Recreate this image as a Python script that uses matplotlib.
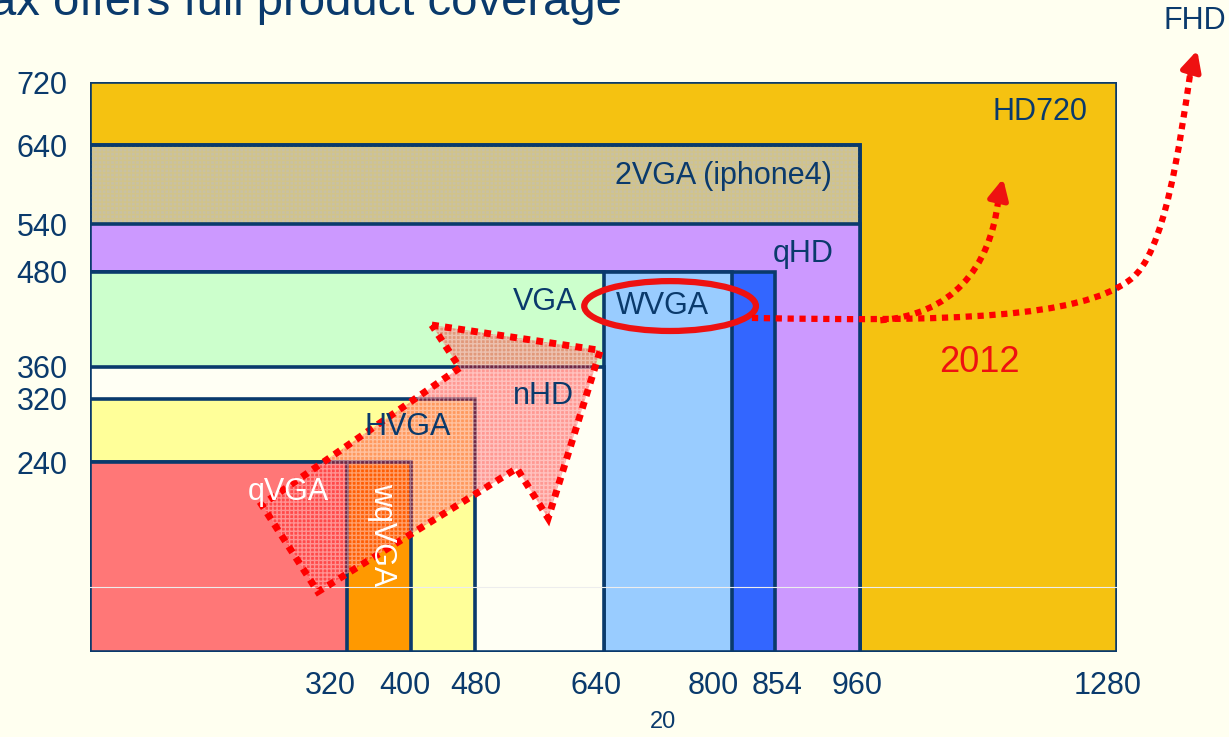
import matplotlib
matplotlib.use('Agg')
import matplotlib.pyplot as plt
import matplotlib.transforms as mtransforms
from matplotlib.patches import Rectangle, Ellipse, Polygon, PathPatch
from matplotlib.path import Path

plt.rcParams['font.family'] = ['Liberation Sans', 'DejaVu Sans']

# ---- data ----
names = ['HD720', '2VGA (iphone4)', 'qHD', 'FWVGA', 'WVGA', 'VGA', 'nHD', 'HVGA', 'wqVGA', 'qVGA']
widths = [1280, 960, 960, 854, 800, 640, 640, 480, 400, 320]
heights = [720, 640, 540, 480, 480, 480, 360, 320, 240, 240]
fills = ['#F5C211', '#C9C1A2', '#CC99FF', '#3366FF', '#99CCFF', '#CCFFCC',
         '#FFFFF4', '#FFFF99', '#FF9900', '#FF7777']
label_x = [1184, 789, 889, None, 713, 567, 565, 396, 364, 247]
label_y = [682, 601, 503, None, 437, 442, 323, 284, 148, 202]
label_color = ['navy'] * 8 + ['white', 'white']
label_rot = [0] * 8 + [-90, 0]

x_ticks = [320, 400, 480, 640, 800, 854, 960, 1280]
x_tick_shift_px = [-16, -6, 1, -7, -19, 2, -3, -9]
y_ticks = [240, 320, 360, 480, 540, 640, 720]

# annotation shapes (data units)
arrow_poly = [(426, 413), (636, 381), (571, 169), (532, 232), (284, 76), (214, 186), (461, 359)]
fhd_curve = [(825, 422), (1072, 417), (1234, 422), (1296, 470),
             (1340, 501), (1359, 647), (1371, 729)]
fhd_tip = (1380, 760)
y2012_curve = [(985, 419), (1072, 426), (1122, 483), (1132, 571)]
y2012_tip = (1138, 598)
ellipse_c, ellipse_w, ellipse_h = (723, 437), 214, 63

NAVY = '#0A3A6C'
RED = '#EE1111'
BG = '#FFFFF0'

fig = plt.figure(figsize=(12.29, 7.37), dpi=100, facecolor=BG)
ax = fig.add_axes([90 / 1229, 85 / 737, 1027 / 1229, 570 / 737])
ax.set_facecolor(BG)
ax.set_xlim(0, 1280)
ax.set_ylim(0, 720)
for s in ax.spines.values():
    s.set_visible(False)

for i, (w, h, c) in enumerate(zip(widths, heights, fills)):
    ax.add_patch(Rectangle((0, 0), w, h, facecolor=c, edgecolor=NAVY, lw=2.6, zorder=1 + i * 0.01))
    if names[i] == '2VGA (iphone4)':
        ax.add_patch(Rectangle((0, 0), w, h, facecolor='none', edgecolor='#E0C860',
                               hatch='++++', lw=0, alpha=0.35, zorder=1 + i * 0.01 + 0.001))
        ax.add_patch(Rectangle((0, 0), w, h, facecolor='none', edgecolor=NAVY, lw=2.6,
                               zorder=1 + i * 0.01 + 0.002))

ax.axhline(82, color='#EDEDED', lw=0.8, zorder=1.5)

for i, n in enumerate(names):
    if label_x[i] is None:
        continue
    col = NAVY if label_color[i] == 'navy' else 'white'
    ax.text(label_x[i], label_y[i], n, color=col, fontsize=22, rotation=label_rot[i],
            ha='center', va='center', zorder=4)

# dotted arrow polygon
ax.add_patch(Polygon(arrow_poly, closed=True, facecolor=(1, 0.05, 0.05, 0.42), edgecolor='none', zorder=3))
ax.add_patch(Polygon(arrow_poly, closed=True, facecolor='none', edgecolor=(1, 1, 1, 0.4),
                     hatch='++++', lw=0, zorder=3.1))
ax.add_patch(Polygon(arrow_poly, closed=True, facecolor='none', edgecolor='#FF0000', lw=5,
                     linestyle=(0, (1, 0.9)), zorder=3.2))

# ellipse
ax.add_patch(Ellipse(ellipse_c, ellipse_w, ellipse_h, facecolor='none', edgecolor=RED, lw=4.5, zorder=5))

# dotted curves
def curve(pts):
    codes = [Path.MOVETO] + [Path.CURVE4] * (len(pts) - 1)
    return Path(pts, codes)

for pts, tip in [(fhd_curve, fhd_tip), (y2012_curve, y2012_tip)]:
    ax.add_patch(PathPatch(curve(pts), facecolor='none', edgecolor='#FF0000', lw=4.5,
                           linestyle=(0, (1, 0.9)), zorder=5, clip_on=False))
    ax.annotate('', xy=tip, xytext=pts[-1],
                arrowprops=dict(arrowstyle='-|>', color='#EE1111', lw=4, mutation_scale=30,
                                shrinkA=0, shrinkB=0),
                annotation_clip=False, zorder=6)

ax.text(1109, 366, '2012', color=RED, fontsize=26, ha='center', va='center', zorder=6)
ax.text(1377, 797, 'FHD', color=NAVY, fontsize=22, ha='center', va='center', zorder=6,
        clip_on=False)

ax.set_xticks(x_ticks)
ax.set_xticklabels([str(v) for v in x_ticks])
ax.set_yticks(y_ticks)
ax.set_yticklabels([str(v) for v in y_ticks])
ax.tick_params(axis='both', length=0, labelsize=22, labelcolor=NAVY)
ax.tick_params(axis='x', pad=14)
ax.tick_params(axis='y', pad=16)
for lab, dx in zip(ax.get_xticklabels(), x_tick_shift_px):
    lab.set_transform(lab.get_transform() + mtransforms.Affine2D().translate(dx, 0))

fig.text(-10 / 1229, 1 - 15 / 737, 'ax offers full product coverage', color=NAVY, fontsize=34,
         ha='left', va='baseline')
fig.text(663 / 1229, 1 - 722 / 737, '20', color=NAVY, fontsize=17, ha='center', va='center')

fig.savefig('out.png', dpi=100, facecolor=BG)
